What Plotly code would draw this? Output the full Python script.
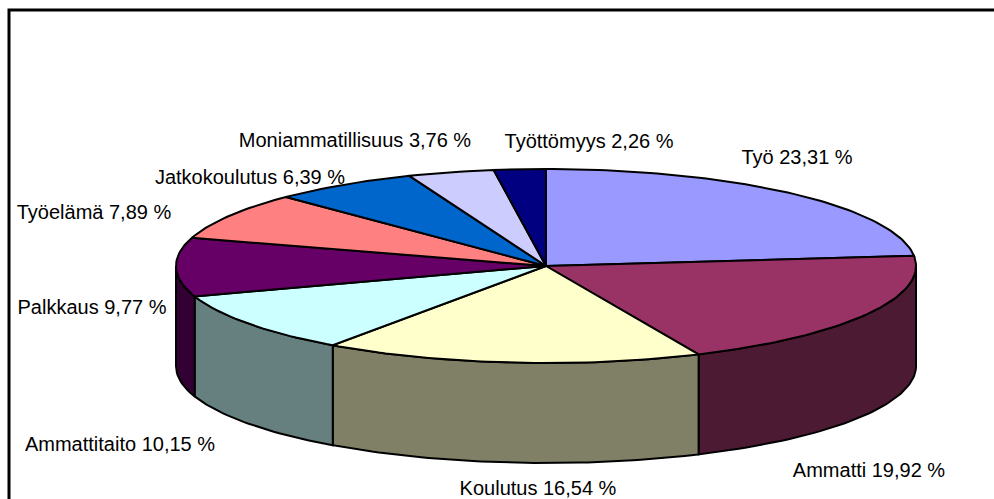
import numpy as np
import plotly.graph_objects as go

categories = ["Työ", "Ammatti", "Koulutus", "Ammattitaito", "Palkkaus",
              "Työelämä", "Jatkokoulutus", "Moniammatillisuus", "Työttömyys"]
values = [23.31, 19.92, 16.54, 10.15, 9.77, 7.89, 6.39, 3.76, 2.26]
value_labels = ["23,31", "19,92", "16,54", "10,15", "9,77", "7,89", "6,39", "3,76", "2,26"]
top_colors = ["#9999FF", "#993366", "#FFFFCC", "#CCFFFF", "#660066",
              "#FF8080", "#0066CC", "#CCCCFF", "#000080"]
side_colors = ["#4D4D80", "#4D1A33", "#808066", "#668080", "#330033",
               "#804040", "#003366", "#666680", "#000040"]

W, H = 994, 499
RX, RY, DEPTH = 370, 97, 100
CX, CY = 546, 266
LINE = dict(color="black", width=2)

# label centres, in pixels of the chart
label_x = [797, 869, 538, 120, 92, 94, 250, 355, 589]
label_y = [159, 472, 490, 446, 309, 214, 179, 142, 143]


def px(a, drop=0.0):
    return CX + RX * np.sin(a), H - (CY - RY * np.cos(a) + drop)


def arc(a0, a1):
    n = max(2, int(abs(a1 - a0) / 0.02))
    return np.linspace(a0, a1, n)


total = sum(values)
edges = np.radians(np.cumsum([0] + values) / total * 360)
fig = go.Figure()

# outer wall: visible only for the front half of the ellipse (90°..270°)
for i in range(len(values)):
    a0, a1 = max(edges[i], np.pi / 2), min(edges[i + 1], 3 * np.pi / 2)
    if a1 <= a0:
        continue
    t = arc(a0, a1)
    x1, y1 = px(t)
    x2, y2 = px(t[::-1], DEPTH)
    fig.add_trace(go.Scatter(x=np.r_[x1, x2, x1[0]], y=np.r_[y1, y2, y1[0]],
                             mode="lines", fill="toself", fillcolor=side_colors[i],
                             line=LINE, hoverinfo="skip", showlegend=False))

# top face
for i in range(len(values)):
    x, y = px(arc(edges[i], edges[i + 1]))
    cy = H - CY
    fig.add_trace(go.Scatter(x=np.r_[CX, x, CX], y=np.r_[cy, y, cy],
                             mode="lines", fill="toself", fillcolor=top_colors[i],
                             line=LINE, name=categories[i], hoverinfo="name",
                             showlegend=False))

# frame: only the top and left edges fall inside the picture
fig.add_trace(go.Scatter(x=[9, 9, W], y=[0, H - 10, H - 10], mode="lines",
                         line=dict(color="black", width=3), hoverinfo="skip",
                         showlegend=False))

fig.add_trace(go.Scatter(
    x=label_x, y=[H - v for v in label_y], mode="text",
    text=[f"{c} {v} %" for c, v in zip(categories, value_labels)],
    textposition="middle center",
    textfont=dict(family="Liberation Sans", size=20, color="black"),
    cliponaxis=False, hoverinfo="skip", showlegend=False))

fig.update_layout(width=W, height=H, margin=dict(l=0, r=0, t=0, b=0),
                  paper_bgcolor="white", plot_bgcolor="white",
                  xaxis=dict(range=[0, W], visible=False),
                  yaxis=dict(range=[0, H], visible=False))
fig.write_html("out.html", config={"displayModeBar": False},
               post_script="document.body.style.margin='0';document.documentElement.style.overflow='hidden';")
